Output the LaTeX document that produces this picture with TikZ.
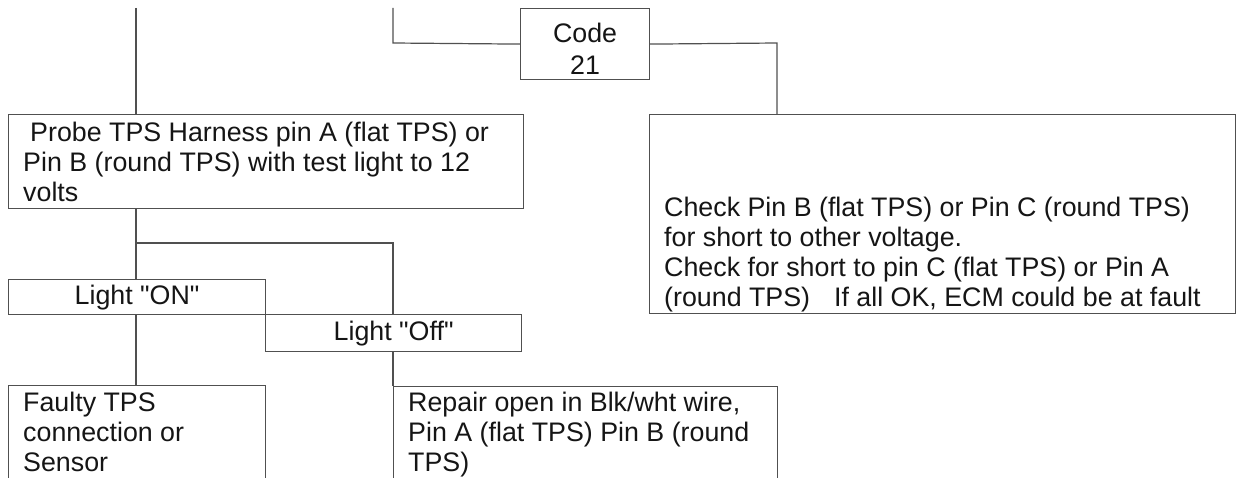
\documentclass[tikz,border=0pt]{standalone}
\usepackage{fontspec}
\setmainfont{Liberation Sans}[Ligatures=TeXOff]
\usepackage{xcolor}
\usetikzlibrary{positioning}

\definecolor{linegray}{HTML}{505050}
\definecolor{textblack}{HTML}{151515}

\tikzset{
    box/.style={draw=linegray, line width=1.2pt, anchor=north west, inner sep=0pt},
    txt/.style={text=textblack, inner sep=0pt, align=left, font=\fontsize{26.8pt}{30pt}\selectfont},
    wire/.style={draw=linegray, line width=1.2pt}
}

\begin{document}
\begin{tikzpicture}[x=1pt, y=-1pt]
        \useasboundingbox (0,0) rectangle (1237,478);
        \clip (0,0) rectangle (1237,478);

        % boxes
        \node[box, minimum width=129pt, minimum height=71pt] (code) at (520,8) {};
        \node[box, minimum width=515pt, minimum height=94pt] (probe) at (8,114) {};
        \node[box, minimum width=586pt, minimum height=199pt] (check) at (649,114) {};
        \node[box, minimum width=257pt, minimum height=35pt] (on) at (8,279) {};
        \node[box, minimum width=256pt, minimum height=37pt] (off) at (265,314) {};
        \node[box, minimum width=257pt, minimum height=120pt] (faulty) at (8,385) {};
        \node[box, minimum width=384pt, minimum height=120pt] (repair) at (393,386) {};

        % texts
        \node[txt, align=center, anchor=north] (codetxt) at ([shift={(0,15)}]code.north) {Code\\[2pt]21};
        \node[txt, anchor=north west] (probetxt) at ([shift={(15,8)}]probe.north west)
            {\hspace*{7pt}Probe TPS Harness pin A (flat TPS) or\\Pin B (round TPS) with test light to 12\\volts};
        \node[txt, anchor=north west] (checktxt) at ([shift={(15,83)}]check.north west)
            {Check Pin B (flat TPS) or Pin C (round TPS)\\for short to other voltage.\\Check for short to pin C (flat TPS) or Pin A\\(round TPS)\hspace{24pt}If all OK, ECM could be at fault};
        \node[txt, align=center] (ontxt) at (on) {Light "ON"};
        \node[txt, align=center] (offtxt) at (off) {Light "Off"};
        \node[txt, anchor=north west] (faultytxt) at ([shift={(15,7)}]faulty.north west)
            {Faulty TPS\\connection or\\Sensor};
        \node[txt, anchor=north west] (repairtxt) at ([shift={(15,6)}]repair.north west)
            {Repair open in Blk/wht wire,\\Pin A (flat TPS) Pin B (round\\TPS)};

        % free ends and bends
        \coordinate (topA) at (136,8);
        \coordinate (topB) at (393,8);
        \coordinate (bendB) at (393,43);
        \coordinate (bendC) at (777,43);
        \coordinate (split) at (136,243);
        \coordinate (bendD) at (393,243);

        % in -> probe
        \draw[wire] (topA) -- (topA |- probe.north);

        % in -> code
        \draw[wire] (topB) -- (bendB) -- (code.west);

        % code -> check
        \draw[wire] (code.east) -- (bendC) -- (bendC |- check.north);

        % probe -> on / off
        \draw[wire] (topA |- probe.south) -- (topA |- on.north);
        \draw[wire] (split) -- (bendD) -- (bendD |- off.north);

        % on -> faulty, off -> repair
        \draw[wire] (topA |- on.south) -- (topA |- faulty.north);
        \draw[wire] (bendD |- off.south) -- (bendD |- repair.north);
\end{tikzpicture}
\end{document}
